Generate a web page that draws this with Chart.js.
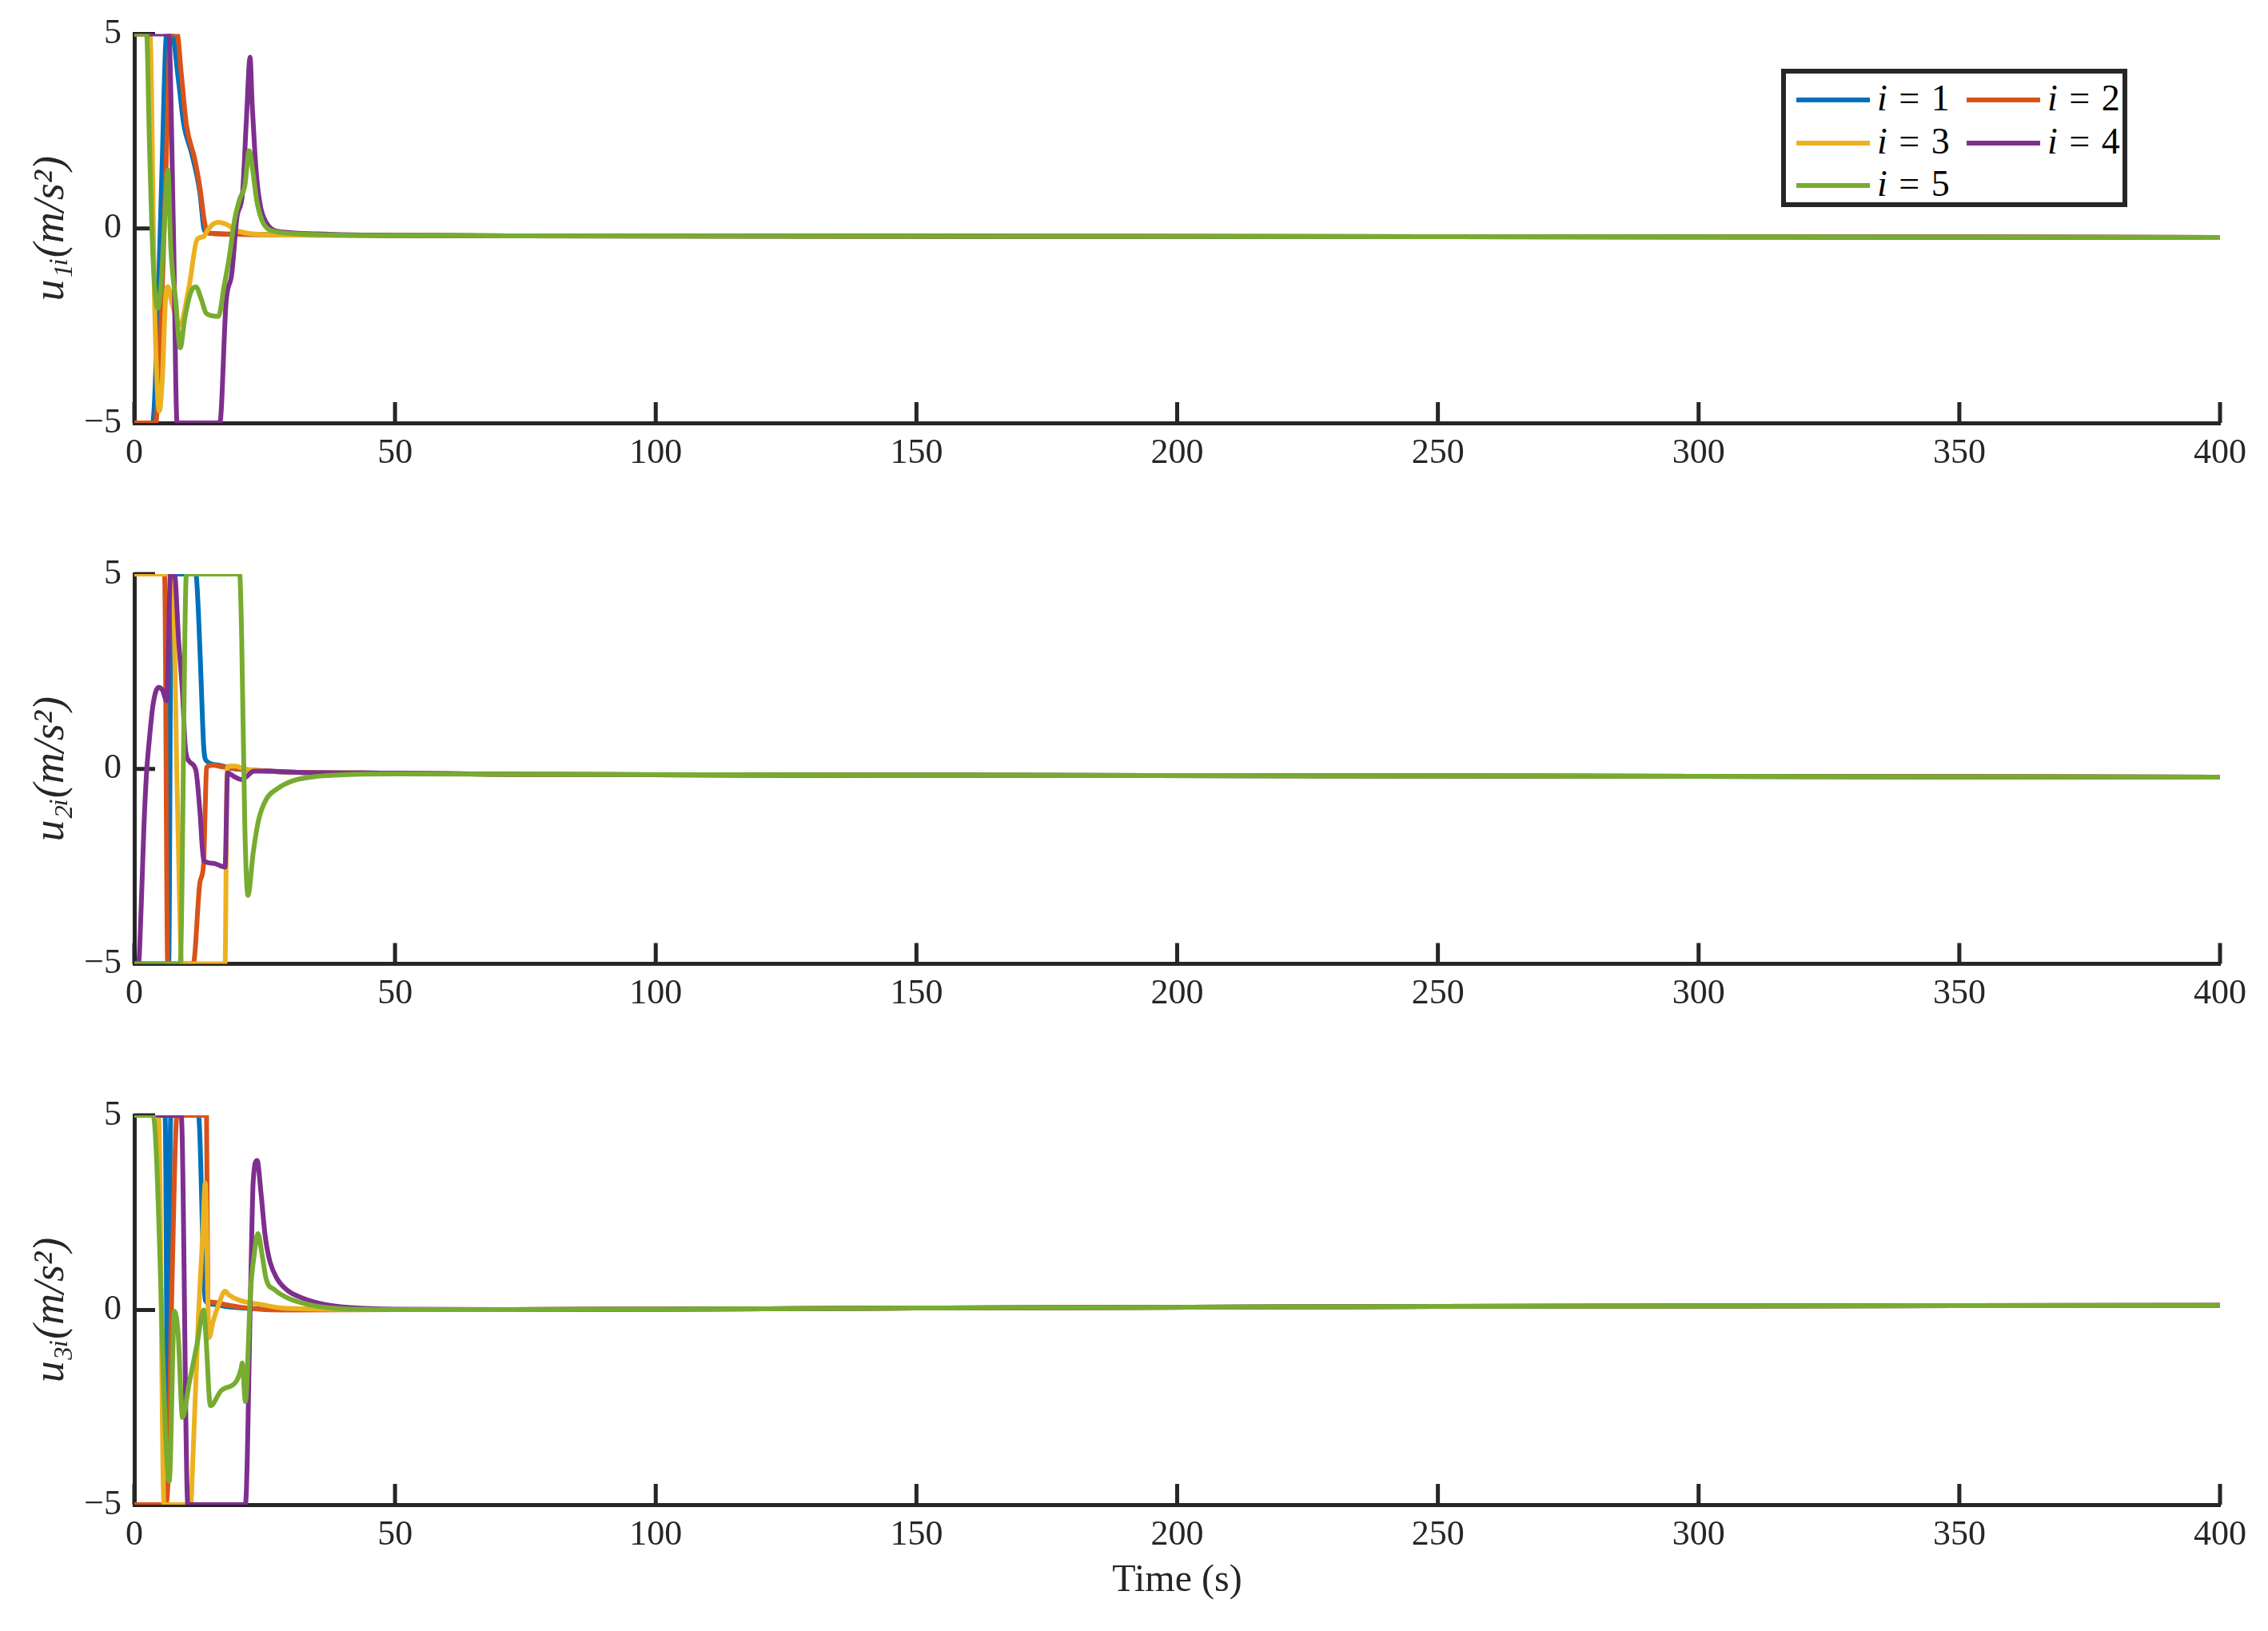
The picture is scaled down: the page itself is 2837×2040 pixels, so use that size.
<!DOCTYPE html>
<html>
<head>
<meta charset="utf-8">
<script src="https://cdn.jsdelivr.net/npm/chart.js@4.4.1/dist/chart.umd.min.js"></script>
<style>
    html, body { margin: 0; padding: 0; background: #fff; }
    #page { position: relative; width: 2837px; height: 2040px; overflow: hidden; background: #fff; }
    canvas { position: absolute; left: 0; }
    #legend {
        position: absolute; left: 2228px; top: 86px; width: 433px; height: 173px;
        border: 6px solid #262626; box-sizing: border-box; background: #fff;
        font-family: "Liberation Serif", "DejaVu Serif", serif; font-size: 46px; color: #000;
    }
    .item { position: absolute; height: 50px; width: 205px; }
    .swatch { position: absolute; left: 0; top: 22px; width: 92px; height: 6px; }
    .lbl { position: absolute; left: 101px; top: -2px; line-height: 50px; white-space: nowrap; word-spacing: 3px; }
</style>
</head>
<body>
<div id="page">
    <canvas id="c1" width="2837" height="640" style="top:0px"></canvas>
    <canvas id="c2" width="2837" height="640" style="top:660px"></canvas>
    <canvas id="c3" width="2837" height="710" style="top:1330px"></canvas>
    <div id="legend"></div>
</div>
<script>
// tick labels / categories
const timeTicks = [0, 50, 100, 150, 200, 250, 300, 350, 400];
const yTicks = [-5, 0, 5];
const agentLabels = ['i = 1', 'i = 2', 'i = 3', 'i = 4', 'i = 5'];
const agentColors = ['#0072BD', '#D95319', '#EDB120', '#7E2F8E', '#77AC30'];
const yTitles = ['u\u2081\u1D62(m/s\u00B2)', 'u\u2082\u1D62(m/s\u00B2)', 'u\u2083\u1D62(m/s\u00B2)'];

// u1, [time, value]
const u1_agent1 = [[0,-5],[3.5,-5],[4.4,-2.6],[5.3,1.5],[6.2,5],[7.2,5],[8.5,3.77],[9.5,2.66],[11,1.93],[12.6,0.9],[13.3,0.03],[13.8,-0.1],[15,-0.13],[20,-0.15],[30,-0.17],[50,-0.18],[72,-0.19],[150,-0.2],[250,-0.21],[400,-0.23]];
const u1_agent2 = [[0,-5],[4.1,-5],[4.8,-3.5],[5.5,-1],[6.3,2.5],[6.9,5],[8.2,5],[9,3.99],[10,2.66],[11.6,1.78],[12.6,1.04],[13.3,0.31],[13.7,0.01],[14.2,-0.1],[16,-0.14],[20,-0.15],[30,-0.17],[50,-0.18],[72,-0.19],[150,-0.2],[250,-0.21],[400,-0.23]];
const u1_agent3 = [[0,5],[3.0,5],[3.9,-2],[4.8,-4.69],[5.4,-3.8],[6.0,-1.8],[6.44,-1.5],[7.2,-1.9],[8.7,-2.49],[10.5,-1.5],[12.06,-0.28],[13.3,-0.21],[14,-0.06],[15,0.1],[16.15,0.16],[17.7,0.1],[19.7,-0.06],[22,-0.13],[25,-0.16],[30,-0.17],[50,-0.18],[72,-0.19],[150,-0.2],[250,-0.21],[400,-0.23]];
const u1_agent4 = [[0,5],[6.6,5],[7.5,0],[8.2,-5],[16.4,-5],[17.6,-1.9],[18.7,-1.16],[19.7,0.3],[20.75,0.9],[21.5,2.8],[22.2,4.4],[22.6,3.2],[23.1,2.0],[23.55,1.2],[24.3,0.5],[25.3,0.15],[26.4,-0.02],[29,-0.1],[35,-0.14],[50,-0.18],[72,-0.19],[150,-0.2],[250,-0.21],[400,-0.23]];
const u1_agent5 = [[0,5],[2.35,5],[2.9,2.2],[3.6,-0.8],[4.5,-2.05],[5.1,-1.5],[5.7,-0.1],[6.44,1.5],[7.0,-0.5],[7.97,-1.9],[8.8,-3.07],[9.7,-2.3],[10.8,-1.65],[11.8,-1.5],[12.8,-1.8],[13.85,-2.19],[16.15,-2.26],[17.2,-1.5],[18.2,-0.75],[19.2,0.2],[20.2,0.75],[21.2,1.1],[22.03,2.0],[22.7,1.5],[23.5,0.7],[24.5,0.2],[25.5,0.0],[27,-0.08],[30,-0.13],[40,-0.17],[50,-0.18],[72,-0.19],[150,-0.2],[250,-0.21],[400,-0.23]];

// u2
const u2_agent1 = [[0,-5],[6.6,-5],[7.1,5],[11.8,5],[12.3,4.0],[12.8,2.3],[13.3,0.59],[13.8,0.21],[16.2,0.1],[18,0.03],[22,-0.03],[30,-0.08],[50,-0.11],[72,-0.14],[150,-0.16],[250,-0.18],[400,-0.21]];
const u2_agent2 = [[0,5],[5.8,5],[6.4,-5],[11.3,-5],[12.6,-2.9],[13.3,-2.42],[13.6,-1.0],[13.85,0.04],[15,0.1],[17,0.05],[20,0.0],[25,-0.05],[30,-0.08],[50,-0.11],[72,-0.14],[150,-0.16],[250,-0.18],[400,-0.21]];
const u2_agent3 = [[0,5],[7.3,5],[8.3,-1],[9.1,-5],[17.4,-5],[17.8,0.0],[18.2,0.07],[19.5,0.07],[21,0.0],[25,-0.05],[30,-0.08],[50,-0.11],[72,-0.14],[150,-0.16],[250,-0.18],[400,-0.21]];
const u2_agent4 = [[0,-5],[0.8,-5],[1.33,-3.5],[1.84,-1.5],[2.35,-0.1],[2.86,0.72],[3.63,1.68],[4.65,2.09],[5.4,2.02],[6.2,1.75],[6.95,5],[7.7,5],[8.5,3.3],[9.25,1.94],[9.76,0.59],[10.5,0.2],[11.8,-0.03],[12.6,-1.12],[13.3,-2.35],[15.1,-2.42],[17.4,-2.52],[17.9,-0.1],[19.2,-0.2],[20.5,-0.27],[21.5,-0.2],[22.8,-0.06],[25,-0.05],[30,-0.08],[50,-0.11],[72,-0.14],[150,-0.16],[250,-0.18],[400,-0.21]];
const u2_agent5 = [[0,-5],[8.8,-5],[10.0,5],[20.2,5],[20.6,3.3],[21.2,-1.5],[21.8,-3.24],[22.8,-2.15],[23.8,-1.33],[25.3,-0.78],[27.4,-0.51],[30.5,-0.3],[34.5,-0.2],[38.6,-0.16],[50,-0.13],[72,-0.14],[150,-0.16],[250,-0.18],[400,-0.21]];

// u3
const u3_agent1 = [[0,5],[5.9,5],[6.4,-2.9],[7.0,5],[12.3,5],[13.6,0.25],[15,0.15],[18,0.08],[22,0.04],[30,0.02],[50,0.01],[72,0.01],[150,0.05],[250,0.09],[400,0.12]];
const u3_agent2 = [[0,-5],[5.9,-5],[6.4,-4.6],[7.2,0.5],[8.2,5],[13.85,5],[14.1,0.25],[15,0.2],[17.4,0.14],[20,0.08],[25,0.01],[30,0.0],[50,0.01],[72,0.01],[150,0.05],[250,0.09],[400,0.12]];
const u3_agent3 = [[0,5],[4.65,5],[5.7,-5],[10.8,-5],[11.3,-3.6],[12.3,-0.16],[13.1,1.89],[13.6,3.26],[14.35,-0.71],[15.1,-0.3],[16.1,0.11],[17.4,0.48],[18.2,0.38],[20.2,0.25],[24.3,0.14],[29.4,0.04],[50,0.01],[72,0.01],[150,0.05],[250,0.09],[400,0.12]];
const u3_agent4 = [[0,5],[9.0,5],[10.27,-5],[21.3,-5],[22.3,0.5],[22.8,3.3],[23.56,3.84],[24.3,3.0],[25.1,1.9],[26,1.25],[27.4,0.8],[29.4,0.5],[32,0.32],[36.6,0.14],[41.7,0.06],[50,0.02],[72,0.01],[150,0.05],[250,0.09],[400,0.12]];
const u3_agent5 = [[0,5],[3.6,5],[6.7,-4.4],[7.7,-0.03],[8.4,-0.6],[9.25,-2.76],[10.5,-1.9],[12.0,-0.9],[13.3,0.0],[13.7,-0.6],[14.6,-2.46],[16.6,-2.08],[19.7,-1.8],[20.5,-1.5],[20.7,-1.36],[21.3,-2.35],[22.3,0.52],[23.05,1.48],[23.7,1.96],[24.6,1.34],[25.3,0.79],[26.9,0.52],[29.4,0.31],[34.5,0.11],[38.6,0.04],[50,0.01],[72,0.01],[150,0.05],[250,0.09],[400,0.12]];

const panels = [
    { id: 'c1', series: [u1_agent1, u1_agent2, u1_agent3, u1_agent4, u1_agent5], title: yTitles[0], padTop: 41, xHeight: 111, xTitle: false },
    { id: 'c2', series: [u2_agent1, u2_agent2, u2_agent3, u2_agent4, u2_agent5], title: yTitles[1], padTop: 58, xHeight: 94.5, xTitle: false },
    { id: 'c3', series: [u3_agent1, u3_agent2, u3_agent3, u3_agent4, u3_agent5], title: yTitles[2], padTop: 65, xHeight: 158, xTitle: true }
];

const axisColor = '#262626';
const serif = '"Liberation Serif", "DejaVu Serif", serif';

// MATLAB style ticks pointing into the plot
const innerTicks = {
    id: 'innerTicks',
    beforeDatasetsDraw(chart) {
        const { ctx, chartArea: a, scales: { x, y } } = chart;
        ctx.save();
        ctx.strokeStyle = axisColor;
        ctx.lineWidth = 5;
        ctx.beginPath();
        timeTicks.forEach(function (v) {
            const px = x.getPixelForValue(v);
            ctx.moveTo(px, a.bottom);
            ctx.lineTo(px, a.bottom - 26);
        });
        yTicks.forEach(function (v) {
            const py = y.getPixelForValue(v);
            ctx.moveTo(a.left, py);
            ctx.lineTo(a.left + 26, py);
        });
        ctx.stroke();
        ctx.restore();
    }
};

panels.forEach(function (p) {
    const datasets = p.series.map(function (s, i) {
        return {
            label: agentLabels[i],
            data: s.map(function (pt) { return { x: pt[0], y: pt[1] }; }),
            borderColor: agentColors[i],
            backgroundColor: agentColors[i],
            borderWidth: 6,
            pointRadius: 0,
            cubicInterpolationMode: 'monotone',
            order: 4 - i
        };
    });
    new Chart(document.getElementById(p.id), {
        type: 'line',
        data: { datasets: datasets },
        plugins: [innerTicks],
        options: {
            responsive: false,
            animation: false,
            events: [],
            layout: { padding: { top: p.padTop, right: 60, left: 0, bottom: 0 } },
            plugins: {
                legend: { display: false },
                tooltip: { enabled: false }
            },
            scales: {
                x: {
                    type: 'linear',
                    min: 0,
                    max: 400,
                    afterFit: function (s) { s.height = p.xHeight; },
                    afterBuildTicks: function (s) { s.ticks = timeTicks.map(function (v) { return { value: v }; }); },
                    ticks: { color: axisColor, font: { family: serif, size: 44 }, padding: 12, maxRotation: 0, autoSkip: false },
                    grid: { display: false, drawTicks: false },
                    border: { display: true, color: axisColor, width: 5 },
                    title: { display: p.xTitle, text: 'Time (s)', color: axisColor, font: { family: serif, size: 48 }, padding: { top: 0, bottom: 34 } }
                },
                y: {
                    type: 'linear',
                    min: -5,
                    max: 5,
                    afterFit: function (s) { s.width = 168; },
                    afterBuildTicks: function (s) { s.ticks = yTicks.map(function (v) { return { value: v }; }); },
                    ticks: {
                        color: axisColor, font: { family: serif, size: 44 }, padding: 16,
                        callback: function (v) { return v < 0 ? '\u2212' + Math.abs(v) : String(v); }
                    },
                    grid: { display: false, drawTicks: false },
                    border: { display: true, color: axisColor, width: 5 },
                    title: { display: true, text: p.title, color: axisColor, font: { family: serif, size: 54, style: 'italic' }, padding: { top: 32, bottom: 0 } }
                }
            }
        }
    });
});

// legend box, two columns like the original
const legendCols = [13, 226];
const legendRows = [8, 62, 115];
const legend = document.getElementById('legend');
agentLabels.forEach(function (lab, i) {
    const item = document.createElement('div');
    item.className = 'item';
    item.style.left = legendCols[i % 2] + 'px';
    item.style.top = legendRows[Math.floor(i / 2)] + 'px';
    const parts = lab.split(' = ');
    item.innerHTML = '<div class="swatch" style="background:' + agentColors[i] + '"></div>' +
        '<div class="lbl"><i>' + parts[0] + '</i> = ' + parts[1] + '</div>';
    legend.appendChild(item);
});
</script>
</body>
</html>
